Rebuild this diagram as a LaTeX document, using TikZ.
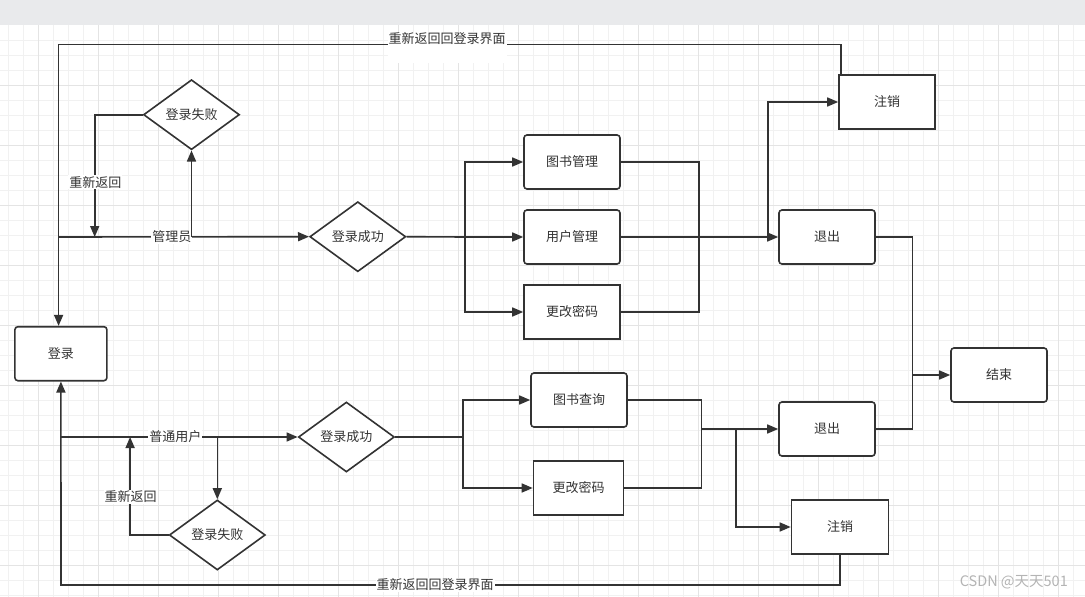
\documentclass[tikz,border=0pt]{standalone}
\usepackage{fontspec}
\newfontfamily\cjk{Noto Sans CJK SC}
\usepackage{xcolor}
\definecolor{flow-line}{HTML}{333333}
\definecolor{flow-text}{HTML}{333333}
\definecolor{grid-minor}{HTML}{F1F1F1}
\definecolor{grid-major}{HTML}{E4E4E4}
\definecolor{page-band}{HTML}{E9EAEC}
\definecolor{mark-grey}{HTML}{B4B4B4}
\usetikzlibrary{shapes.geometric,arrows.meta}

\tikzset{
  flowfont/.style={font=\cjk\fontsize{13pt}{15pt}\selectfont, text=flow-text},
  stepbox/.style={draw=flow-line, line width=1.6pt, rounded corners=3pt, fill=white,
    minimum width=96pt, minimum height=54pt, inner sep=0pt, flowfont},
  plainbox/.style={stepbox, sharp corners},
  choice/.style={diamond, draw=flow-line, line width=1.6pt, fill=white,
    minimum width=96pt, minimum height=70pt, inner sep=0pt, flowfont},
  wire/.style={draw=flow-line, line width=1.6pt},
  arr/.style={wire, -{Triangle[length=11pt,width=9pt]}},
  tag/.style={fill=white, inner sep=1pt, flowfont},
}

\begin{document}
\begin{tikzpicture}[x=1pt, y=-1pt]

    \useasboundingbox (0,0) rectangle (1085,597);

    % Background
    \fill[white] (0,0) rectangle (1085,597);
    \foreach \gx in {8.3,23.3,...,1085} \draw[grid-minor, line width=1pt] (\gx,25) -- (\gx,597);
    \foreach \gy in {40,55,...,597} \draw[grid-minor, line width=1pt] (0,\gy) -- (1085,\gy);
    \foreach \gx in {38.3,98.3,...,1085} \draw[grid-major, line width=1pt] (\gx,25) -- (\gx,597);
    \foreach \gy in {85,145,...,597} \draw[grid-major, line width=1pt] (0,\gy) -- (1085,\gy);
    \fill[page-band] (0,0) rectangle (1085,25);

    % Nodes
    \node[stepbox, minimum width=92pt] (login) at (60.9,353.7) {登录};

    \node[choice] (failA) at (191.5,114.7) {登录失败};
    \node[choice] (succA) at (357.8,236.7) {登录成功};
    \node[stepbox] (bookMgr) at (572,162) {图书管理};
    \node[stepbox] (userMgr) at (572,237) {用户管理};
    \node[plainbox] (pwdA) at (572,312) {更改密码};
    \node[stepbox] (quitA) at (827,237) {退出};
    \node[plainbox] (cancelA) at (887,102) {注销};

    \node[stepbox] (finish) at (999,375) {结束};

    \node[choice] (succB) at (346.4,437) {登录成功};
    \node[choice] (failB) at (217.3,535) {登录失败};
    \node[stepbox] (bookQry) at (579,400) {图书查询};
    \node[plainbox, minimum width=90pt] (pwdB) at (578.5,488) {更改密码};
    \node[stepbox] (quitB) at (827,429) {退出};
    \node[plainbox, minimum width=97pt] (cancelB) at (840,527) {注销};

    % Turning points
    \coordinate (topL) at (58.6,44.3);
    \coordinate (botL) at (61,585);
    \coordinate (adm0) at (58.6,237);
    \coordinate (retA) at (94.7,237);
    \coordinate (brA) at (464.7,237);
    \coordinate (mgA) at (699.2,237);
    \coordinate (spA) at (768.2,237);
    \coordinate (mgF) at (912.3,375);
    \coordinate (usr0) at (61,437);
    \coordinate (retB) at (130.1,437);
    \coordinate (brB) at (463,437);
    \coordinate (mgB) at (701.5,429);
    \coordinate (spB) at (735.7,429);

    % Back to login
    \draw[arr] ([xshift=2.5pt]cancelA.north west) |- (topL) -- (topL |- login.north);
    \node[tag, anchor=base, text height=10pt, text depth=19pt] (retTop) at (447,43) {重新返回回登录界面};
    \draw[arr] (cancelB.south) |- (botL) -- (login.south);
    \node[tag] (retBot) at (435,585) {重新返回回登录界面};

    % Admin
    \draw[arr] (adm0) -- (succA.west);
    \node[tag] (admin) at (171.9,237) {管理员};
    \draw[arr] (failA.south |- adm0) -- (failA.south);
    \draw[arr] (failA.west) -| (retA);
    \node[tag] (againA) at (95.4,182.3) {重新返回};
    \draw[wire] (succA.east) -- (brA);
    \draw[arr] (brA) |- (bookMgr.west);
    \draw[arr] (brA) -- (userMgr.west);
    \draw[arr] (brA) |- (pwdA.west);
    \draw[wire] (bookMgr.east) -| (mgA);
    \draw[wire] (pwdA.east) -| (mgA);
    \draw[arr] (userMgr.east) -- (quitA.west);
    \draw[arr] (spA) |- (cancelA.west);

    % User
    \draw[arr] (usr0) -- (succB.west);
    \node[tag] (user) at (175.4,437) {普通用户};
    \draw[arr] (failB.north |- usr0) -- (failB.north);
    \draw[arr] (failB.west) -| (retB);
    \node[tag] (againB) at (130.5,496.7) {重新返回};
    \draw[wire] (succB.east) -- (brB);
    \draw[arr] (brB) |- (bookQry.west);
    \draw[arr] (brB) |- (pwdB.west);
    \draw[wire] (bookQry.east) -| (mgB);
    \draw[wire] (pwdB.east) -| (mgB);
    \draw[arr] (mgB) -- (quitB.west);
    \draw[arr] (spB) |- (cancelB.west);

    % End
    \draw[wire] (quitA.east) -| (mgF);
    \draw[wire] (quitB.east) -| (mgF);
    \draw[arr] (mgF) -- (finish.west);

    % Watermark
    \node[font=\cjk\fontsize{14.5pt}{16pt}\selectfont, text=mark-grey] (mark) at (1013.8,582) {CSDN @天天501};

\end{tikzpicture}
\end{document}
